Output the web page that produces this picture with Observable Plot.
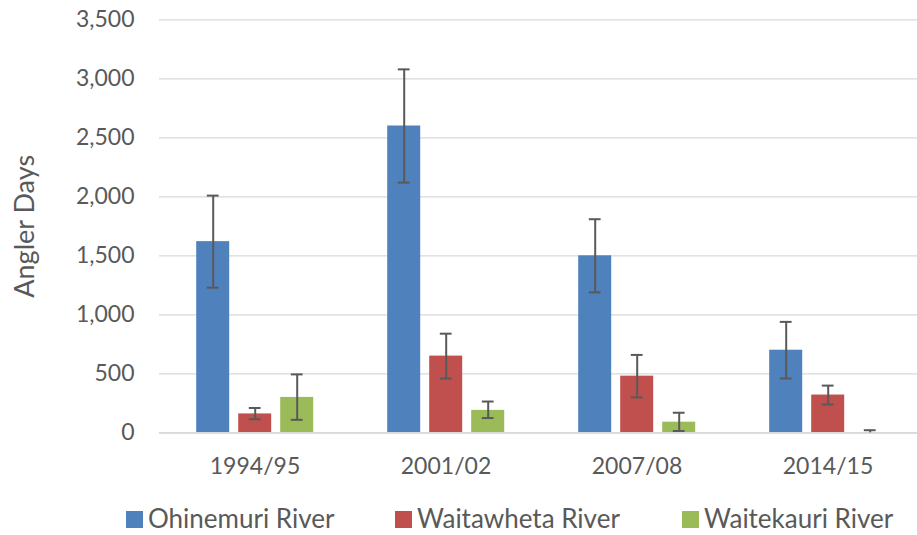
<!DOCTYPE html>
<html>
<head>
<meta charset="utf-8">
<script src="https://cdn.jsdelivr.net/npm/d3@7"></script>
<script src="https://cdn.jsdelivr.net/npm/@observablehq/plot@0.6"></script>
<style>
  html, body { margin: 0; padding: 0; background: #fff; overflow: hidden; }
  #chart { position: relative; width: 917px; }
  #legend { position: relative; height: 35px; font-family: Lato, sans-serif; font-size: 26px; line-height: 1; color: #595959; }
  .item { position: absolute; top: 5px; height: 26px; display: flex; align-items: flex-start; }
  .item span { line-height: 26px; display: block; }
  .sw { width: 17px; height: 17px; margin-right: 5px; margin-top: 6px; }
</style>
</head>
<body>
<div id="chart"></div>
<div id="legend"></div>
<script>
const years = ["1994/95", "2001/02", "2007/08", "2014/15"];
const rivers = ["Ohinemuri River", "Waitawheta River", "Waitekauri River"];
const colors = ["#4f81bd", "#c0504d", "#9bbb59"];

const ohinemuri     = [1620, 2600, 1500, 700];
const ohinemuriLow  = [1230, 2120, 1190, 460];
const ohinemuriHigh = [2010, 3080, 1810, 940];

const waitawheta     = [160, 650, 480, 320];
const waitawhetaLow  = [115, 460, 300, 240];
const waitawhetaHigh = [210, 840, 660, 400];

const waitekauri     = [300, 190, 90, 0];
const waitekauriLow  = [110, 125, 15, 0];
const waitekauriHigh = [495, 265, 170, 22];

const yTicks = [0, 500, 1000, 1500, 2000, 2500, 3000, 3500];

const values = [ohinemuri, waitawheta, waitekauri];
const lows = [ohinemuriLow, waitawhetaLow, waitekauriLow];
const highs = [ohinemuriHigh, waitawhetaHigh, waitekauriHigh];

const data = years.flatMap((yr, i) => rivers.map((r, j) => ({
  year: yr, river: r, value: values[j][i], low: lows[j][i], high: highs[j][i]
})));
const lowCaps = data.filter(d => d.low > 0);

const errColor = "#595959";
const chart = Plot.plot({
  width: 917,
  height: 500,
  marginLeft: 156.8,
  marginRight: -7.2,
  marginTop: 19.3,
  marginBottom: 67.7,
  style: { fontFamily: "Lato, sans-serif", fontSize: "23px", color: "#595959", background: "#fff", overflow: "hidden" },
  fx: { domain: years, padding: 0, label: null },
  x: { domain: rivers, paddingInner: 0.213, paddingOuter: 0.873, axis: null },
  y: { domain: [0, 3500] },
  color: { domain: rivers, range: colors },
  marks: [
    Plot.gridY(yTicks, { stroke: "#d9d9d9", strokeOpacity: 1, strokeWidth: 1.3 }),
    Plot.axisY(yTicks, { tickSize: 0, tickPadding: 25, tickFormat: d3.format(","), label: null, fontSize: 23 }),
    Plot.axisY([], { tickSize: 0, label: "Angler Days", labelAnchor: "center", labelArrow: "none", labelOffset: 145, fontSize: 27 }),
    Plot.axisFx({ anchor: "bottom", tickSize: 0, tickPadding: 25, label: null, fontSize: 23 }),
    Plot.barY(data, { fx: "year", x: "river", y: "value", fill: "river" }),
    Plot.ruleY([0], { stroke: "#d9d9d9", strokeWidth: 1.8 }),
    Plot.ruleX(data, { fx: "year", x: "river", y1: "low", y2: "high", stroke: errColor, strokeWidth: 2 }),
    Plot.tickY(lowCaps, { fx: "year", x: "river", y: "low", insetLeft: 10.6, insetRight: 10.6, stroke: errColor, strokeWidth: 2 }),
    Plot.tickY(data, { fx: "year", x: "river", y: "high", insetLeft: 10.6, insetRight: 10.6, stroke: errColor, strokeWidth: 2 })
  ]
});
document.getElementById("chart").appendChild(chart);

const legend = document.getElementById("legend");
const lefts = [126, 395, 682];
rivers.forEach((r, i) => {
  const it = document.createElement("div");
  it.className = "item";
  it.style.left = lefts[i] + "px";
  const sw = document.createElement("div");
  sw.className = "sw";
  sw.style.background = colors[i];
  const t = document.createElement("span");
  t.textContent = r;
  it.appendChild(sw);
  it.appendChild(t);
  legend.appendChild(it);
});
</script>
</body>
</html>
